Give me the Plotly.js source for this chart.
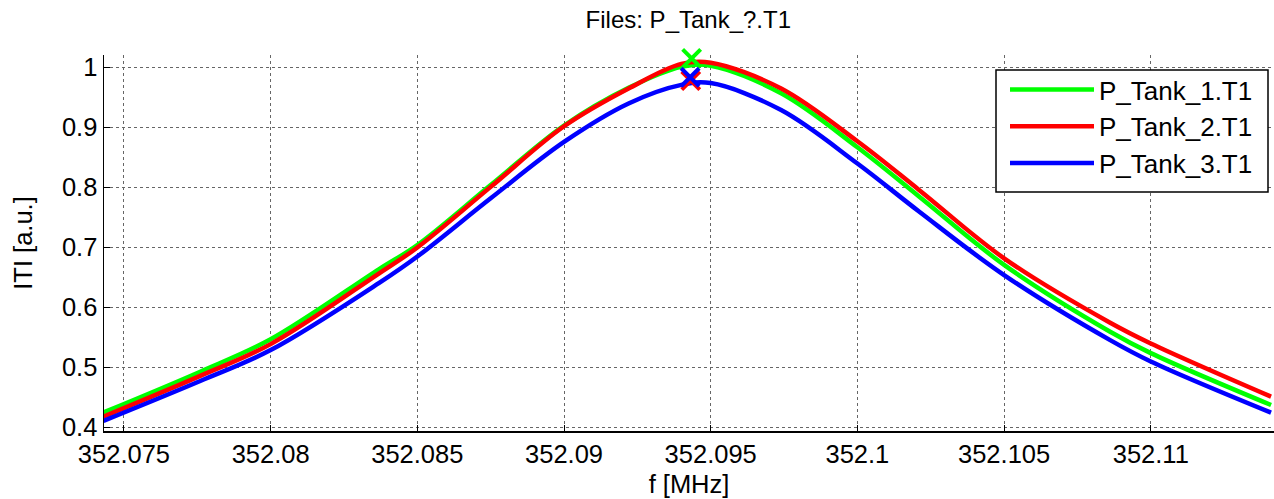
<!DOCTYPE html>
<html>
<head>
<meta charset="utf-8">
<script src="https://cdn.plot.ly/plotly-3.0.1.min.js"></script>
<style>html,body{margin:0;padding:0;background:#fff;}#plot{width:1274px;height:499px;}</style>
</head>
<body>
<div id="plot"></div>
<script>
// Frequencies [MHz] at which the curves were read
const freq = [352.0743, 352.0776, 352.0800, 352.0837, 352.0850, 352.0875, 352.0900, 352.0922, 352.0940, 352.0950, 352.0974, 352.1000, 352.1021, 352.1050, 352.1086, 352.1100, 352.1141];
// |T| values per file
const tank1 = [0.425, 0.493, 0.547, 0.664, 0.704, 0.804, 0.903, 0.966, 1.001, 1.003, 0.957, 0.867, 0.785, 0.671, 0.560, 0.524, 0.4375];
const tank2 = [0.418, 0.486, 0.539, 0.657, 0.700, 0.801, 0.902, 0.965, 1.006, 1.008, 0.965, 0.877, 0.796, 0.682, 0.575, 0.540, 0.4514];
const tank3 = [0.411, 0.4775, 0.529, 0.641, 0.685, 0.782, 0.876, 0.940, 0.971, 0.974, 0.929, 0.840, 0.760, 0.654, 0.546, 0.510, 0.4247];
// Marked points (x markers)
const markF = [352.09435, 352.09432, 352.09430];
const markV = [1.0152, 0.978, 0.9837];
const names = ["P_Tank_1.T1", "P_Tank_2.T1", "P_Tank_3.T1"];
const colors = ["#00ff00", "#ff0000", "#0000ff"];
const xTicks = [352.075, 352.08, 352.085, 352.09, 352.095, 352.1, 352.105, 352.11];
const xTickText = ["352.075", "352.08", "352.085", "352.09", "352.095", "352.1", "352.105", "352.11"];
const yTicks = [0.4, 0.5, 0.6, 0.7, 0.8, 0.9, 1];
const yTickText = ["0.4", "0.5", "0.6", "0.7", "0.8", "0.9", "1"];

const FONT = "Liberation Sans, Arial, Helvetica, sans-serif";
const series = [tank1, tank2, tank3];
const traces = series.map((s, i) => ({
  x: freq, y: s, type: "scatter", mode: "lines", name: names[i],
  line: {color: colors[i], width: 4.5, shape: "spline", smoothing: 1}
}));
// markers: red first, then green, then blue
[1, 0, 2].forEach(i => {
  traces.push({
    x: [markF[i]], y: [markV[i]], type: "scatter", mode: "markers", showlegend: false,
    cliponaxis: false,
    marker: {symbol: "x-thin-open", size: 18, color: colors[i], line: {color: colors[i], width: 4}}
  });
});

const layout = {
  width: 1274, height: 499,
  margin: {l: 104, r: 0, t: 55, b: 68},
  paper_bgcolor: "#fff", plot_bgcolor: "#fff",
  font: {family: FONT, size: 25, color: "#000"},
  title: {text: "Files: P_Tank_?.T1", font: {family: FONT, size: 24, color: "#000"},
          x: 0.5403, xanchor: "center", y: 0.96, yanchor: "middle", yref: "container"},
  xaxis: {
    range: [352.07432, 352.1142], tickvals: xTicks, ticktext: xTickText,
    showgrid: true, gridcolor: "#666", griddash: "dot", gridwidth: 1,
    showline: true, linecolor: "#000", linewidth: 1.5, mirror: false,
    ticks: "inside", ticklen: 6, tickcolor: "#000", zeroline: false,
    tickfont: {family: FONT, size: 25.5, color: "#000"},
    title: {text: "f [MHz]", font: {family: FONT, size: 25.5, color: "#000"}, standoff: 8}
  },
  yaxis: {
    range: [0.39417, 1.0208], tickvals: yTicks, ticktext: yTickText,
    showgrid: true, gridcolor: "#666", griddash: "dot", gridwidth: 1,
    showline: true, linecolor: "#000", linewidth: 1.5, mirror: false,
    ticks: "inside", ticklen: 6, tickcolor: "#000", zeroline: false,
    tickfont: {family: FONT, size: 25.5, color: "#000"},
    title: {text: "ITI [a.u.]", font: {family: FONT, size: 25.5, color: "#000"}, standoff: 22}
  },
  shapes: [{
    type: "rect", xref: "paper", yref: "paper", layer: "above",
    x0: (996 - 104) / 1170, x1: (1268 - 104) / 1170,
    y0: (431 - 192) / 376, y1: (431 - 70) / 376,
    fillcolor: "#fff", line: {color: "#000", width: 1.5}
  }],
  legend: {
    x: (1005 - 104) / 1170, y: (431 - 66) / 376, xanchor: "left", yanchor: "top",
    bgcolor: "rgba(0,0,0,0)", borderwidth: 0,
    font: {family: FONT, size: 26, color: "#000"}, itemwidth: 84
  },
  showlegend: true
};
Plotly.newPlot("plot", traces, layout, {displayModeBar: false, staticPlot: true});
</script>
</body>
</html>
